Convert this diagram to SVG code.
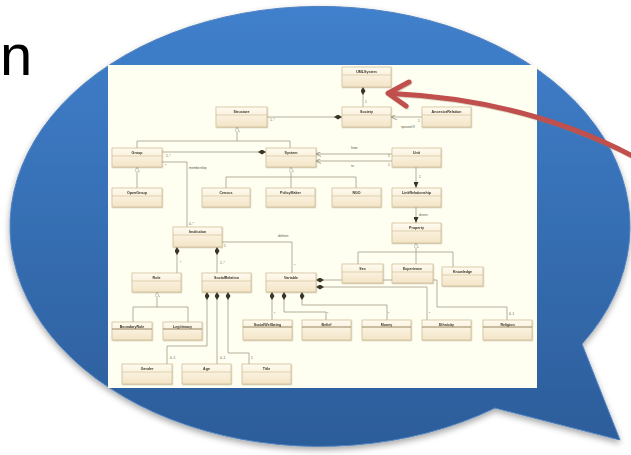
<svg xmlns="http://www.w3.org/2000/svg" width="631" height="455" viewBox="0 0 631 455">
<style>
.nm{font-family:"Liberation Sans",Arial,sans-serif;font-size:3.6px;font-weight:bold;fill:#3a3428;text-anchor:middle}
.lb{font-family:"Liberation Sans",Arial,sans-serif;font-size:3.2px;fill:#5a5448}
.bx{fill:url(#boxg);stroke:#CDB98F;stroke-width:0.7}
.hd{stroke:#CDB98F;stroke-width:0.6}
.hk{stroke:#9A8561;stroke-width:1.2}
.ln{fill:none;stroke:#A39C88;stroke-width:0.8}
.cd{marker-start:url(#dia)}
.gn{marker-start:url(#tri)}
</style>
<defs>
<linearGradient id="bub" gradientUnits="userSpaceOnUse" x1="0" y1="6" x2="0" y2="446">
<stop offset="0" stop-color="#4080CC"/>
<stop offset="1" stop-color="#2C5D9A"/>
</linearGradient>
<linearGradient id="boxg" x1="0" y1="0" x2="0" y2="1">
<stop offset="0" stop-color="#FFFBF0"/>
<stop offset="1" stop-color="#F3E4C6"/>
</linearGradient>
<filter id="sh" x="-10%" y="-10%" width="120%" height="120%">
<feDropShadow dx="0" dy="3" stdDeviation="3" flood-color="#000" flood-opacity="0.35"/>
</filter>
<filter id="bs" x="-10%" y="-10%" width="130%" height="130%">
<feDropShadow dx="0.6" dy="0.8" stdDeviation="0.5" flood-color="#8a7a5a" flood-opacity="0.4"/>
</filter>
<marker id="dia" viewBox="0 0 8 5" refX="0" refY="2.5" markerWidth="8" markerHeight="5" markerUnits="userSpaceOnUse" orient="auto">
<path d="M0,2.5 L4,0 L8,2.5 L4,5 z" fill="#3a3428"/>
</marker>
<marker id="tri" viewBox="0 0 5 5" refX="5" refY="2.5" markerWidth="5" markerHeight="5" markerUnits="userSpaceOnUse" orient="auto-start-reverse">
<path d="M0,0 L5,2.5 L0,5 z" fill="#FFFFF4" stroke="#A39C88" stroke-width="0.6"/>
</marker>
<marker id="arr" viewBox="0 0 6 5" refX="6" refY="2.5" markerWidth="6" markerHeight="5" markerUnits="userSpaceOnUse" orient="auto">
<path d="M0,0 L6,2.5 L0,5 z" fill="#3a3428"/>
</marker>
<marker id="opn" viewBox="0 0 5 5" refX="5" refY="2.5" markerWidth="5" markerHeight="5" markerUnits="userSpaceOnUse" orient="auto-start-reverse">
<path d="M0,0 L5,2.5 L0,5" fill="none" stroke="#6a6250" stroke-width="0.6"/>
</marker>
</defs>

<g id="title-fragment">
<text x="0" y="75" font-family="Liberation Sans, Arial, sans-serif" font-size="58" fill="#000">n</text>
</g>

<g id="bubble" filter="url(#sh)">
<path d="M582,344 L620,440 L495,408 A310,220 0 1 1 582,344 z" fill="url(#bub)" stroke="#4F82C0" stroke-width="1" stroke-linejoin="miter"/>
</g>

<g id="panel">
<rect x="108" y="65" width="429" height="323" fill="#FEFEF1"/>
</g>

<g id="connectors">
<path class="ln cd" d="M363,87 V107"/>
<path class="ln cd" d="M342,117 H267"/>
<path class="ln" d="M391,117 H422" marker-start="url(#opn)"/>
<path class="ln gn" d="M237,127 V141"/>
<path class="ln" d="M137,148 V141 H290 V148"/>
<path class="ln cd" d="M266,152 H162"/>
<path class="ln" d="M162,162 H187 V227"/>
<path class="ln gn" d="M137,167 V188"/>
<path class="ln gn" d="M291,167 V177"/>
<path class="ln" d="M226,188 V177 H356 V188 M291,177 V188"/>
<path class="ln" d="M316,154 H392" marker-start="url(#opn)"/>
<path class="ln" d="M316,161 H392" marker-start="url(#opn)"/>
<path class="ln" d="M416,167 V188" marker-end="url(#arr)"/>
<path class="ln" d="M416,207 V223" marker-end="url(#arr)"/>
<path class="ln gn" d="M416,243 V252"/>
<path class="ln" d="M358,264 V252 H453 V267 M416,252 V264"/>
<path class="ln cd" d="M177,247 V273"/>
<path class="ln cd" d="M217,247 V273"/>
<path class="ln" d="M222,242 H292 V273"/>
<path class="ln gn" d="M157,292 V307"/>
<path class="ln" d="M133,322 V307 H188 V322"/>
<path class="ln cd" d="M207,292 V346 H167 V364"/>
<path class="ln cd" d="M217,292 V364"/>
<path class="ln cd" d="M228,292 V353 H249 V364"/>
<path class="ln cd" d="M272,292 V320"/>
<path class="ln cd" d="M284,292 V312 H326 V320"/>
<path class="ln cd" d="M302,292 V305 H387 V320"/>
<path class="ln cd" d="M316,280 H437 V307 H507 V320"/>
<path class="ln cd" d="M316,287 H427 V320"/>
<g id="connector-labels">
<text class="lb" x="365" y="103">1</text>
<text class="lb" x="270" y="121">1..*</text>
<text class="lb" x="396" y="122">*</text>
<text class="lb" x="418" y="122">1</text>
<text class="lb" x="401" y="128">spouseOf</text>
<text class="lb" x="166" y="157">1..*</text>
<text class="lb" x="165" y="167">*</text>
<text class="lb" x="189" y="169">membership</text>
<text class="lb" x="189" y="225">0..*</text>
<text class="lb" x="351" y="149">from</text>
<text class="lb" x="351" y="167">to</text>
<text class="lb" x="388" y="157">1</text>
<text class="lb" x="388" y="166">1</text>
<text class="lb" x="419" y="178">1</text>
<text class="lb" x="419" y="216">drives</text>
<text class="lb" x="180" y="264">*</text>
<text class="lb" x="220" y="264">1..*</text>
<text class="lb" x="224" y="247">1</text>
<text class="lb" x="278" y="237">defines</text>
<text class="lb" x="294" y="267">*</text>
<text class="lb" x="170" y="359">0..1</text>
<text class="lb" x="220" y="359">0..1</text>
<text class="lb" x="251" y="359">1</text>
<text class="lb" x="274" y="315">*</text>
<text class="lb" x="327" y="315">*</text>
<text class="lb" x="388" y="315">*</text>
<text class="lb" x="429" y="315">*</text>
<text class="lb" x="509" y="315">0..1</text>
</g>
</g>

<g id="UMLSystem" filter="url(#bs)"><rect class="bx" x="342" y="67" width="49" height="20"/><line class="hd" x1="342" y1="75" x2="391" y2="75"/><text class="nm" x="366.5" y="73">UMLSystem</text></g>
<g id="Society" filter="url(#bs)"><rect class="bx" x="342" y="107" width="49" height="20"/><line class="hd" x1="342" y1="115" x2="391" y2="115"/><text class="nm" x="366.5" y="113">Society</text></g>
<g id="AncestorRelation" filter="url(#bs)"><rect class="bx" x="422" y="107" width="49" height="20"/><line class="hd" x1="422" y1="115" x2="471" y2="115"/><text class="nm" x="446.5" y="113">AncestorRelation</text></g>
<g id="Structure" filter="url(#bs)"><rect class="bx" x="216" y="107" width="51" height="20"/><line class="hd" x1="216" y1="115" x2="267" y2="115"/><text class="nm" x="241.5" y="113">Structure</text></g>
<g id="Group" filter="url(#bs)"><rect class="bx" x="112" y="148" width="50" height="19"/><line class="hd" x1="112" y1="156" x2="162" y2="156"/><text class="nm" x="137" y="154">Group</text></g>
<g id="System" filter="url(#bs)"><rect class="bx" x="266" y="148" width="50" height="19"/><line class="hd" x1="266" y1="156" x2="316" y2="156"/><text class="nm" x="291" y="154">System</text></g>
<g id="Unit" filter="url(#bs)"><rect class="bx" x="392" y="148" width="49" height="19"/><line class="hd" x1="392" y1="156" x2="441" y2="156"/><text class="nm" x="416.5" y="154">Unit</text></g>
<g id="OpenGroup" filter="url(#bs)"><rect class="bx" x="112" y="188" width="50" height="19"/><line class="hd" x1="112" y1="196" x2="162" y2="196"/><text class="nm" x="137" y="194">OpenGroup</text></g>
<g id="Census" filter="url(#bs)"><rect class="bx" x="202" y="188" width="48" height="19"/><line class="hd" x1="202" y1="196" x2="250" y2="196"/><text class="nm" x="226" y="194">Census</text></g>
<g id="PolicyMaker" filter="url(#bs)"><rect class="bx" x="266" y="188" width="49" height="19"/><line class="hd" x1="266" y1="196" x2="315" y2="196"/><text class="nm" x="290.5" y="194">PolicyMaker</text></g>
<g id="NGO" filter="url(#bs)"><rect class="bx" x="332" y="188" width="49" height="19"/><line class="hd" x1="332" y1="196" x2="381" y2="196"/><text class="nm" x="356.5" y="194">NGO</text></g>
<g id="LinkRelationship" filter="url(#bs)"><rect class="bx" x="392" y="188" width="49" height="19"/><line class="hd" x1="392" y1="196" x2="441" y2="196"/><text class="nm" x="416.5" y="194">LinkRelationship</text></g>
<g id="Property" filter="url(#bs)"><rect class="bx" x="392" y="223" width="49" height="20"/><line class="hd" x1="392" y1="231" x2="441" y2="231"/><text class="nm" x="416.5" y="229">Property</text></g>
<g id="Institution" filter="url(#bs)"><rect class="bx" x="173" y="227" width="49" height="20"/><line class="hd" x1="173" y1="235" x2="222" y2="235"/><text class="nm" x="197.5" y="233">Institution</text></g>
<g id="Role" filter="url(#bs)"><rect class="bx" x="132" y="273" width="49" height="19"/><line class="hd" x1="132" y1="281" x2="181" y2="281"/><text class="nm" x="156.5" y="279">Role</text></g>
<g id="SocialRelation" filter="url(#bs)"><rect class="bx" x="202" y="273" width="49" height="19"/><line class="hd" x1="202" y1="281" x2="251" y2="281"/><text class="nm" x="226.5" y="279">SocialRelation</text></g>
<g id="Variable" filter="url(#bs)"><rect class="bx" x="266" y="273" width="50" height="19"/><line class="hd" x1="266" y1="281" x2="316" y2="281"/><text class="nm" x="291" y="279">Variable</text></g>
<g id="Sex" filter="url(#bs)"><rect class="bx" x="342" y="264" width="41" height="19"/><line class="hd" x1="342" y1="272" x2="383" y2="272"/><text class="nm" x="362.5" y="270">Sex</text></g>
<g id="Experience" filter="url(#bs)"><rect class="bx" x="392" y="264" width="41" height="19"/><line class="hd" x1="392" y1="272" x2="433" y2="272"/><text class="nm" x="412.5" y="270">Experience</text></g>
<g id="Knowledge" filter="url(#bs)"><rect class="bx" x="442" y="267" width="41" height="19"/><line class="hd" x1="442" y1="275" x2="483" y2="275"/><text class="nm" x="462.5" y="273">Knowledge</text></g>
<g id="BoundaryRule" filter="url(#bs)"><rect class="bx" x="112" y="322" width="40" height="18"/><line class="hk" x1="112" y1="329" x2="152" y2="329"/><text class="nm" x="132" y="327.5">BoundaryRule</text></g>
<g id="Legitimacy" filter="url(#bs)"><rect class="bx" x="163" y="322" width="39" height="18"/><line class="hk" x1="163" y1="329" x2="202" y2="329"/><text class="nm" x="182.5" y="327.5">Legitimacy</text></g>
<g id="SocialWellbeing" filter="url(#bs)"><rect class="bx" x="243" y="320" width="49" height="20"/><line class="hk" x1="243" y1="327" x2="292" y2="327"/><text class="nm" x="267.5" y="325.5">SocialWellbeing</text></g>
<g id="Belief" filter="url(#bs)"><rect class="bx" x="302" y="320" width="49" height="20"/><line class="hk" x1="302" y1="327" x2="351" y2="327"/><text class="nm" x="326.5" y="325.5">Belief</text></g>
<g id="Money" filter="url(#bs)"><rect class="bx" x="362" y="320" width="49" height="20"/><line class="hk" x1="362" y1="327" x2="411" y2="327"/><text class="nm" x="386.5" y="325.5">Money</text></g>
<g id="Ethnicity" filter="url(#bs)"><rect class="bx" x="422" y="320" width="49" height="20"/><line class="hk" x1="422" y1="327" x2="471" y2="327"/><text class="nm" x="446.5" y="325.5">Ethnicity</text></g>
<g id="Religion" filter="url(#bs)"><rect class="bx" x="483" y="320" width="49" height="20"/><line class="hk" x1="483" y1="327" x2="532" y2="327"/><text class="nm" x="507.5" y="325.5">Religion</text></g>
<g id="Gender" filter="url(#bs)"><rect class="bx" x="122" y="364" width="50" height="20"/><line class="hd" x1="122" y1="372" x2="172" y2="372"/><text class="nm" x="147" y="370">Gender</text></g>
<g id="Age" filter="url(#bs)"><rect class="bx" x="182" y="364" width="49" height="20"/><line class="hd" x1="182" y1="372" x2="231" y2="372"/><text class="nm" x="206.5" y="370">Age</text></g>
<g id="Title" filter="url(#bs)"><rect class="bx" x="242" y="364" width="49" height="20"/><line class="hd" x1="242" y1="372" x2="291" y2="372"/><text class="nm" x="266.5" y="370">Title</text></g>

<g id="pointer-arrow" fill="none" stroke="#C0504D" stroke-width="5" stroke-linecap="round" stroke-linejoin="round" filter="url(#bs)">
<path d="M640,160 Q530,100 392,93.5"/>
<polyline points="409,82 388,93.3 406,106"/>
</g>
</svg>
